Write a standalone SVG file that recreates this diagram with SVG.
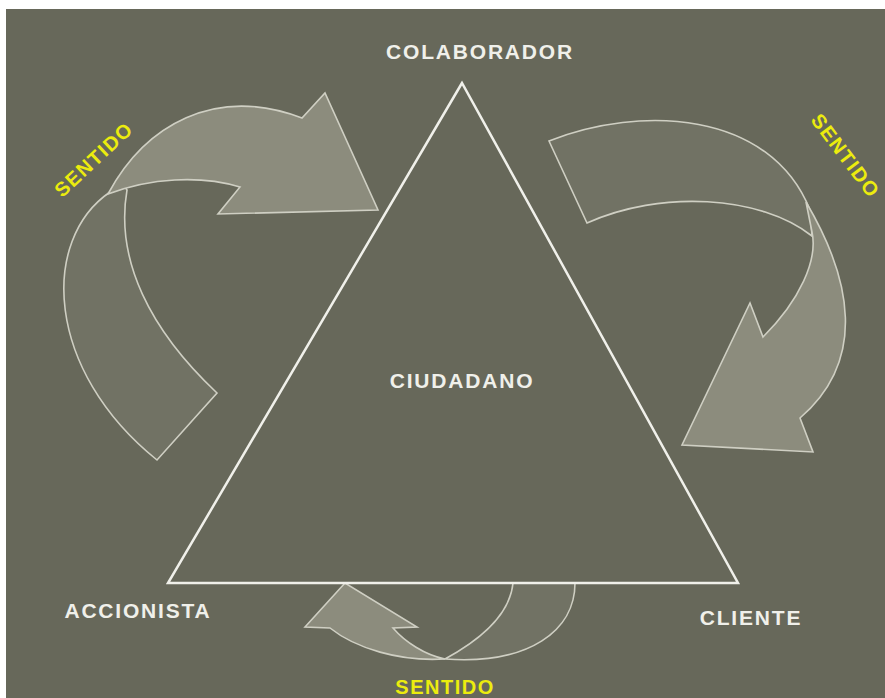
<svg xmlns="http://www.w3.org/2000/svg" width="885" height="698" viewBox="0 0 885 698">
  <style>
    .label { font-family: "Liberation Sans", Arial, sans-serif; font-size: 21px; font-weight: bold; fill: #f0f0ea; letter-spacing: 1.8px; text-anchor: middle; }
    .dir { font-family: "Liberation Sans", Arial, sans-serif; font-size: 20px; font-weight: bold; fill: #ecec0e; letter-spacing: 1.5px; text-anchor: middle; }
    .ribbon-light { fill: #8c8c7d; stroke: #cfcfc3; stroke-width: 1.6; stroke-linejoin: miter; }
    .ribbon-dark { fill: #717264; stroke: #cfcfc3; stroke-width: 1.6; stroke-linejoin: miter; }
    .edge { fill: none; stroke: #f0f0ea; stroke-width: 2.5; stroke-linejoin: miter; }
  </style>

  <rect x="0" y="0" width="885" height="698" fill="#ffffff"/>
  <rect x="6" y="9" width="879" height="689" fill="#67685a"/>

  <!-- curved flow arrows around the triangle -->
  <g id="connectors">
    <!-- left: from the shareholder side up towards the collaborator -->
    <g id="arrow-left">
      <path class="ribbon-dark" d="M110,192 C40,240 45,370 157,460 L217,393 C150,330 115,260 127,190 L118,178 Z"/>
      <path class="ribbon-light" d="M108,194 C145,125 215,85 302,118 L325,93 L378,210 L218,214 L240,187 C200,175 150,178 108,194 Z"/>
    </g>
    <!-- right: from the collaborator down towards the client -->
    <g id="arrow-right">
      <path class="ribbon-dark" d="M549,141 C640,105 770,110 810,210 L812,236 C760,195 660,190 587,223 Z"/>
      <path class="ribbon-light" d="M806,202 C852,280 867,360 800,418 L813,452 L682,445 L750,303 L763,337 C800,300 818,260 812,232 Z"/>
    </g>
    <!-- bottom: from the client back towards the shareholder -->
    <g id="arrow-bottom">
      <path class="ribbon-dark" d="M445,659 C480,640 510,615 513,583 L575,583 C575,630 530,665 445,659 Z"/>
      <path class="ribbon-light" d="M345,583 L305,627 L330,628 C355,648 400,662 445,659 C425,655 405,642 393,628 L417,627 Z"/>
    </g>
  </g>

  <g id="triangle">
    <path class="edge" d="M462,83 L168,583 L738,583 Z"/>
  </g>

  <g id="node-colaborador">
    <text class="label" x="480" y="59">COLABORADOR</text>
  </g>
  <g id="node-ciudadano">
    <text class="label" x="462" y="388">CIUDADANO</text>
  </g>
  <g id="node-accionista">
    <text class="label" x="138" y="618">ACCIONISTA</text>
  </g>
  <g id="node-cliente">
    <text class="label" x="751" y="625">CLIENTE</text>
  </g>

  <g id="direction-labels">
    <text class="dir" transform="translate(93,160) rotate(-43)" x="1" y="7">SENTIDO</text>
    <text class="dir" transform="translate(845,155) rotate(53)" x="1" y="7">SENTIDO</text>
    <text class="dir" x="445" y="694">SENTIDO</text>
  </g>
</svg>
